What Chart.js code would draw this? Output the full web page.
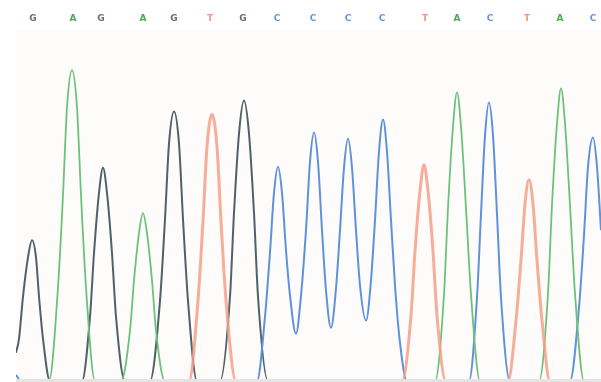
<!DOCTYPE html>
<html lang="en">
<head>
    <meta charset="UTF-8">
    <title>Chromatogram</title>
    <script src="https://cdn.jsdelivr.net/npm/chart.js"></script>
    <style>
        html, body { margin: 0; padding: 0; background: #ffffff; }
        #box { width: 601px; height: 382px; }
    </style>
</head>
<body>
    <div id="box">
        <canvas id="myChart" width="601" height="382"></canvas>
    </div>

<script>

    // base calls shown on top (scan position + letter)
    const bases = ['G', 'A', 'G', 'A', 'G', 'T', 'G', 'C', 'C', 'C', 'C', 'T', 'A', 'C', 'T', 'A', 'C'];
    const basePos = [17, 57, 85, 127, 158, 194, 227, 261, 297, 332, 366, 409, 441, 474, 511, 544, 577];

    // traces: [scan, signal]
    const traceG = [[0, 28], [3, 42], [7, 84], [12, 123], [16, 140], [20, 123], [23, 84], [27, 42], [34, 0],
        [66, 0], [74, 64], [78, 127], [83, 187], [87, 212], [91, 187], [96, 127], [100, 64], [109, 0],
        [134, 0], [144, 80], [149, 161], [153, 236], [158, 268], [163, 236], [167, 161], [172, 80], [181, 0],
        [204, 0], [214, 84], [218, 167], [223, 246], [228, 279], [233, 246], [238, 167], [242, 84], [252, 0],
        [585, 0]];

    const traceA = [[0, 0], [33, 0], [42, 93], [47, 185], [51, 272], [56, 309], [61, 272], [65, 185], [70, 93], [79, 0],
        [105, 0], [114, 50], [118, 100], [123, 147], [127, 167], [131, 147], [136, 100], [140, 50], [149, 0],
        [419, 0], [428, 86], [432, 172], [437, 253], [441, 287], [445, 253], [450, 172], [455, 86], [464, 0],
        [523, 0], [532, 87], [536, 175], [541, 256], [545, 291], [549, 256], [554, 175], [559, 87], [568, 0],
        [585, 0]];

    const traceT = [[0, 0], [173, 0], [182, 80], [187, 159], [191, 233], [196, 265], [201, 233], [205, 159], [210, 80], [220, 0],
        [386, 0], [395, 65], [399, 129], [404, 189], [408, 215], [412, 189], [417, 129], [421, 65], [430, 0],
        [492, 0], [500, 60], [505, 120], [509, 176], [513, 200], [517, 176], [521, 120], [526, 60], [534, 0],
        [585, 0]];

    const traceC = [[0, 6], [5, 0], [241, 0], [249, 64], [254, 128], [258, 187], [262, 213], [266, 187], [270, 130], [274, 85],
        [280, 47], [285, 85], [290, 150], [294, 218], [298, 247], [302, 218], [306, 150], [310, 90],
        [315, 53], [320, 92], [324, 150], [328, 212], [332, 241], [336, 212], [340, 150], [344, 95],
        [350, 60], [355, 100], [359, 160], [363, 228], [367, 260], [371, 228], [375, 160], [379, 95], [384, 38], [391, 0],
        [453, 0], [461, 83], [465, 166], [469, 244], [473, 277], [477, 244], [481, 166], [485, 83], [494, 0],
        [554, 0], [563, 73], [568, 145], [572, 213], [577, 242], [581, 213], [585, 150]];

    const baseColors = { G: '#5f6f76', A: '#48ad58', T: '#f39a82', C: '#6595dd' };

    function toPoints(arr) {
        return arr.map(function (p) { return { x: p[0], y: p[1] }; });
    }

    // fundo da area do grafico + linha de base
    const fundo = {
        id: 'fundo',
        beforeDraw(chart) {
            const a = chart.chartArea;
            const ctx = chart.ctx;
            ctx.save();
            ctx.fillStyle = '#fefbfb';
            ctx.fillRect(a.left, a.top, a.right - a.left, a.bottom - a.top);
            ctx.restore();
        },
        afterDatasetsDraw(chart) {
            const a = chart.chartArea;
            const ctx = chart.ctx;
            ctx.save();
            ctx.fillStyle = '#e4e4e4';
            ctx.fillRect(a.left, a.bottom - 1, a.right - a.left, 3);
            ctx.restore();
        }
    };

    function serie(label, arr, color, width) {
        return {
            label: label,
            data: toPoints(arr),
            borderColor: color,
            borderWidth: width,
            pointRadius: 0,
            fill: false,
            clip: 0,
            cubicInterpolationMode: 'monotone'
        };
    }

    const config = {
        type: 'line',
        data: {
            datasets: [
                serie('T', traceT, 'rgba(245, 160, 136, 0.85)', 3),
                serie('A', traceA, '#6cc27a', 1.8),
                serie('C', traceC, '#5f92dc', 2),
                serie('G', traceG, '#4f6169', 2)
            ]
        },
        options: {
            responsive: false,
            devicePixelRatio: 1,
            animation: false,
            layout: { padding: { left: 16, right: 0, top: 0, bottom: 2 } },
            plugins: { legend: { display: false }, tooltip: { enabled: false } },
            scales: {
                x: { type: 'linear', min: 0, max: 585, display: false },
                x2: {
                    type: 'linear',
                    position: 'top',
                    min: 0,
                    max: 585,
                    grid: { display: false, drawTicks: false },
                    border: { display: false },
                    afterBuildTicks(axis) {
                        axis.ticks = basePos.map(function (v) { return { value: v }; });
                    },
                    afterFit(axis) {
                        axis.height = 30;
                        axis.paddingLeft = 0;
                        axis.paddingRight = 0;
                    },
                    ticks: {
                        autoSkip: false,
                        maxRotation: 0,
                        padding: 6,
                        font: { family: 'DejaVu Sans', size: 9, weight: 'bold' },
                        color: function (ctx) { return baseColors[bases[ctx.index]]; },
                        callback: function (value, index) { return bases[index]; }
                    }
                },
                y: { min: 1, max: 349, display: false }
            }
        },
        plugins: [fundo]
    };

    let myChart = new Chart(document.getElementById('myChart'), config);

</script>
</body>
</html>
